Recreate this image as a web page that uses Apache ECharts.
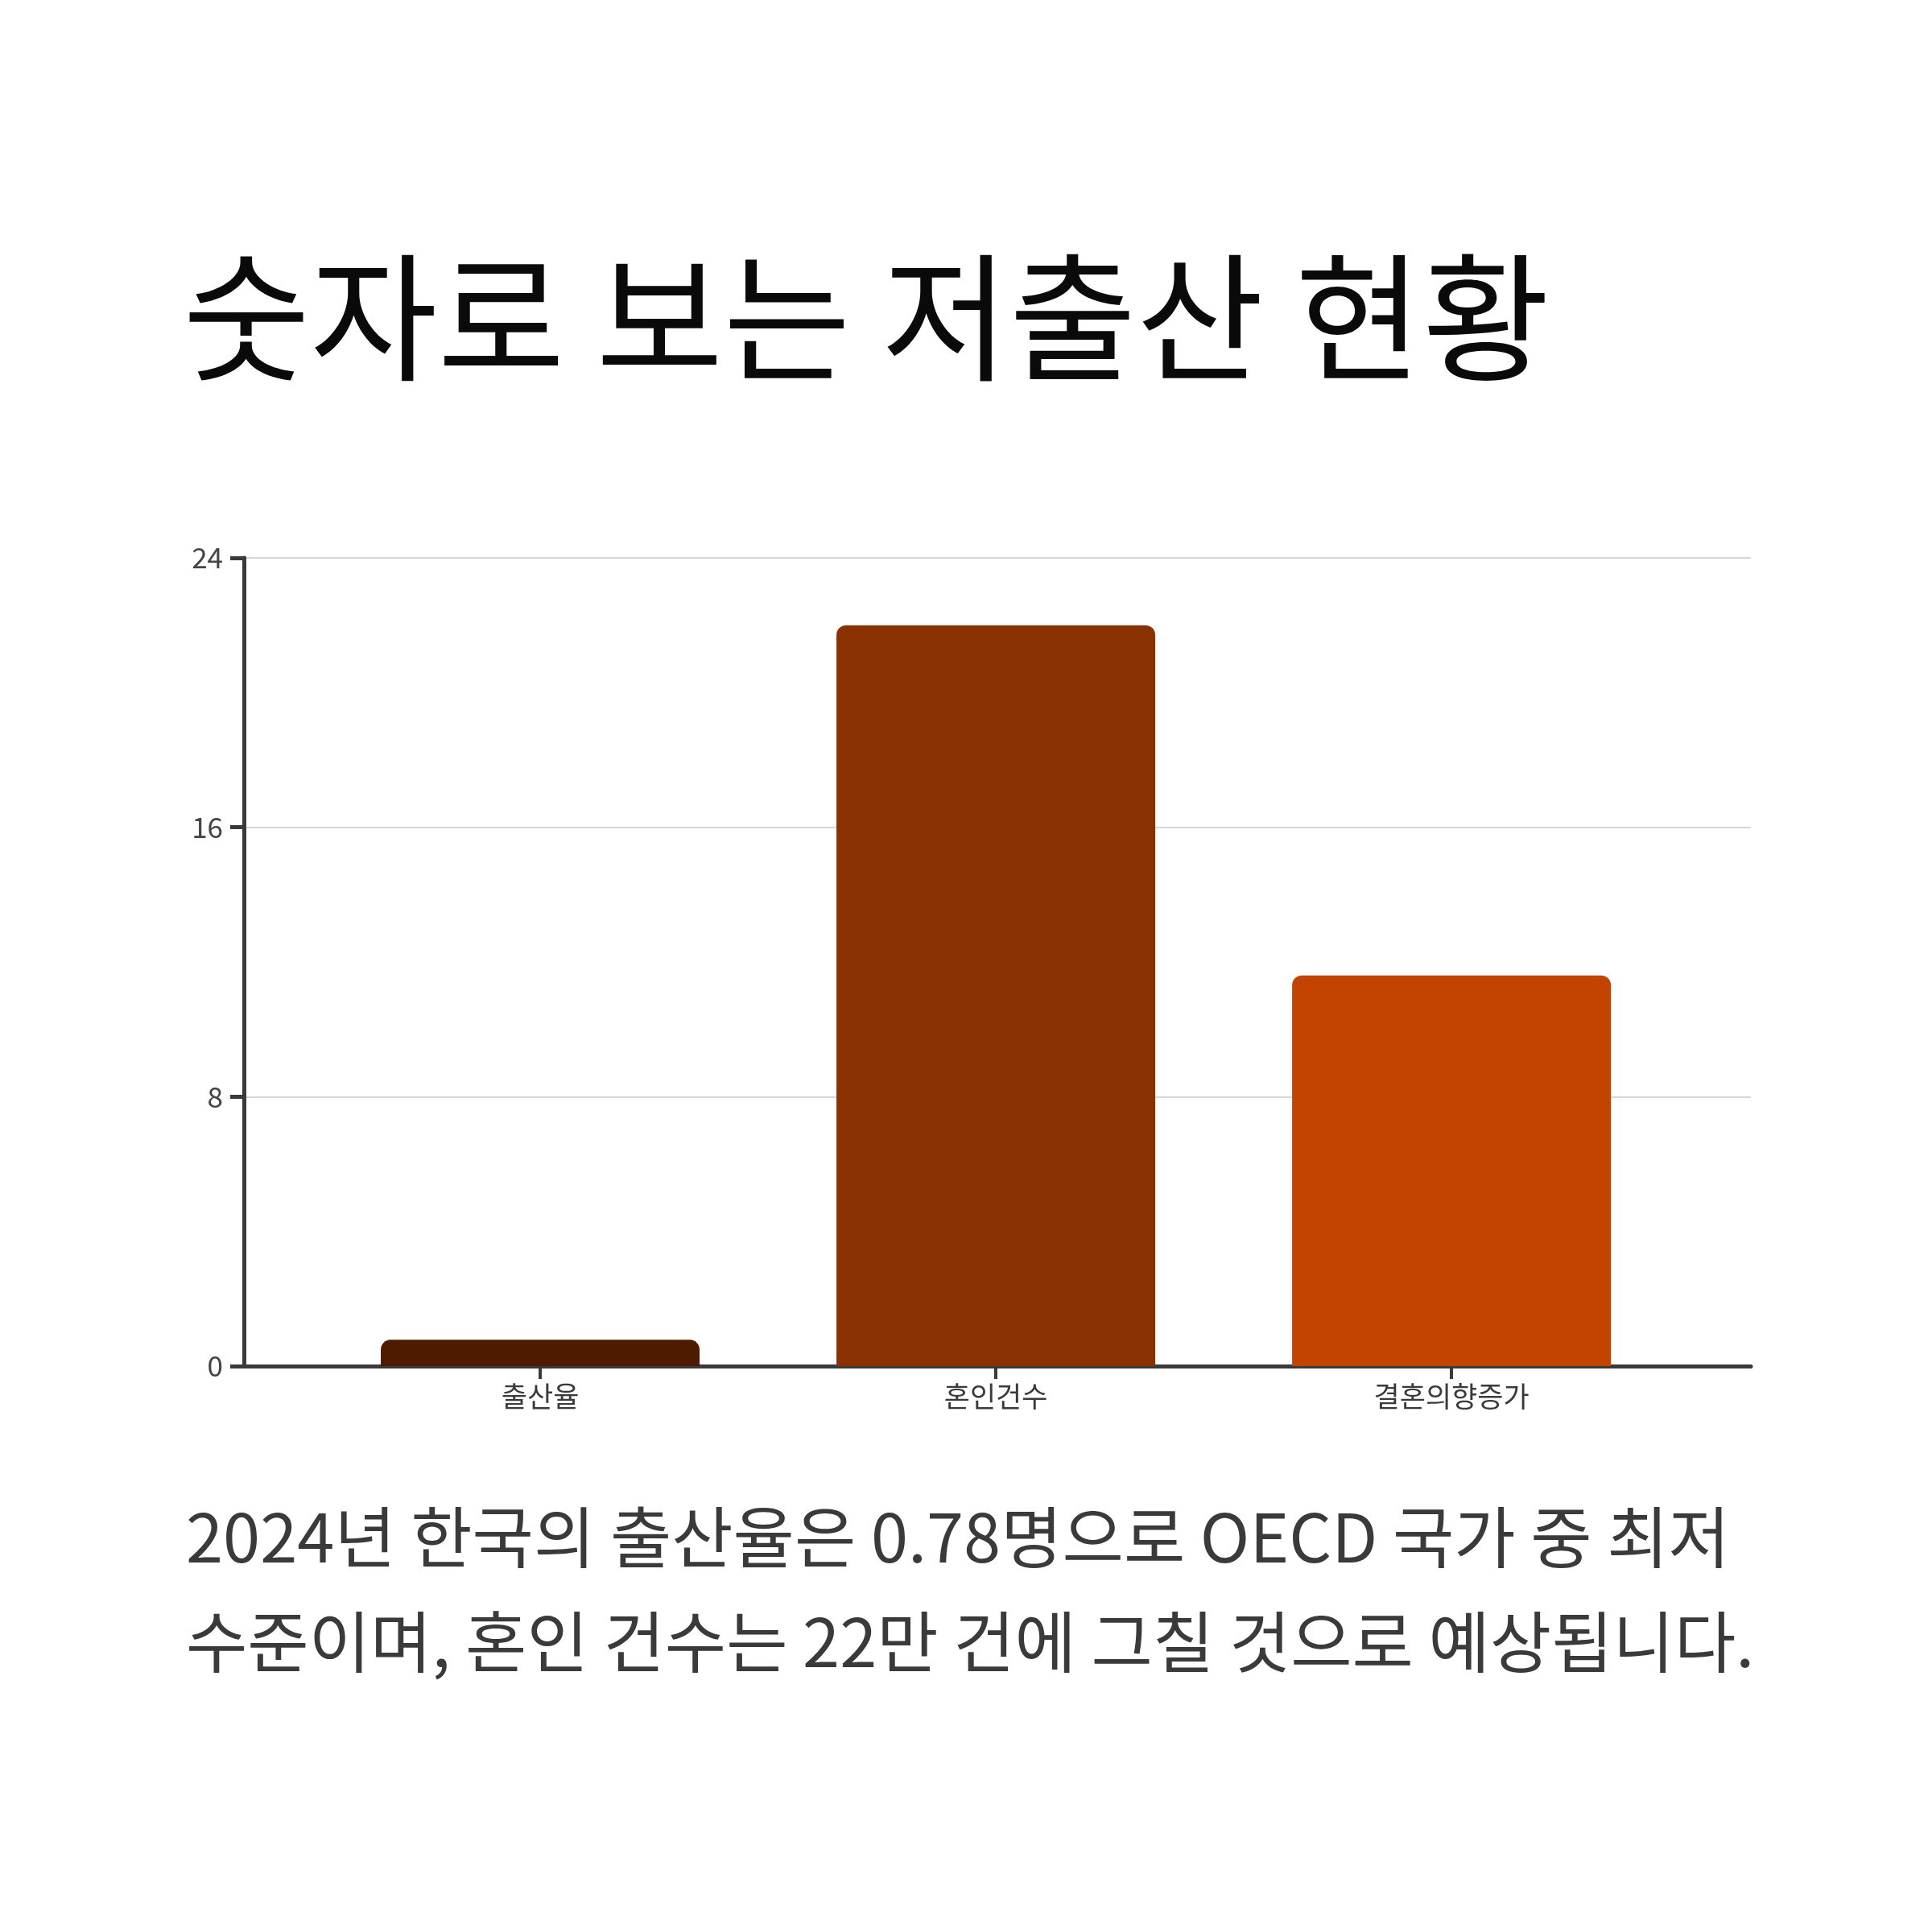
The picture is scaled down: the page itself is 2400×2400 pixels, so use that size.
<!DOCTYPE html>
<html>
<head>
<meta charset="utf-8">
<script src="https://cdn.jsdelivr.net/npm/echarts@6/dist/echarts.min.js"></script>
<style>
html,body{margin:0;padding:0;background:#fff;}
#chart{width:2400px;height:2400px;}
</style>
</head>
<body>
<div id="chart"></div>
<script>
const titleText = '숫자로 보는 저출산 현황';
const noteText = '2024년 한국의 출산율은 0.78명으로 OECD 국가 중 최저\n수준이며, 혼인 건수는 22만 건에 그칠 것으로 예상됩니다.';
const categories = ['출산율', '혼인건수', '결혼의향증가'];
const values = [0.78, 22, 11.6];
const barColors = ['#4d1c00', '#8a3100', '#c24400'];
const yTicks = [0, 8, 16, 24];

const FONT = "'Noto Sans CJK KR', sans-serif";
const chart = echarts.init(document.getElementById('chart'), null, {renderer: 'canvas'});

chart.setOption({
  backgroundColor: '#ffffff',
  animation: false,
  title: [
    {
      text: titleText,
      left: 222,
      top: 302,
      textStyle: {fontFamily: FONT, fontSize: 172, fontWeight: 400, color: '#0a0a0a', lineHeight: 174}
    },
    {
      text: noteText,
      left: 226,
      top: 1839,
      textStyle: {fontFamily: FONT, fontSize: 83, fontWeight: 400, color: '#3a3a3a', lineHeight: 130}
    }
  ],
  grid: {left: 303, right: 225, top: 693, bottom: 703, containLabel: false},
  xAxis: {
    type: 'value',
    min: -0.6502,
    max: 2.657,
    splitLine: {show: false},
    axisLine: {show: true, onZero: true, lineStyle: {color: '#3a3a3a', width: 5}},
    axisTick: {show: true, customValues: categories.map((c, i) => i), length: 16, lineStyle: {color: '#3a3a3a', width: 4}},
    axisLabel: {
      show: true,
      customValues: categories.map((c, i) => i),
      formatter: (v) => categories[Math.round(v)] || '',
      margin: 20,
      fontFamily: FONT, fontSize: 35, color: '#3a3a3a'
    }
  },
  yAxis: {
    type: 'value',
    min: yTicks[0],
    max: yTicks[yTicks.length - 1],
    interval: yTicks[1] - yTicks[0],
    axisLine: {show: true, onZero: false, lineStyle: {color: '#3a3a3a', width: 5}},
    axisTick: {show: true, length: 17, lineStyle: {color: '#3a3a3a', width: 5}},
    axisLabel: {margin: 26, fontFamily: FONT, fontSize: 35, color: '#444444'},
    splitLine: {show: true, lineStyle: {color: '#d6d6d6', width: 2}}
  },
  series: [{
    type: 'bar',
    barWidth: 396,
    data: values.map((v, i) => ({value: [i, v], itemStyle: {color: barColors[i]}})),
    itemStyle: {borderRadius: [12, 12, 0, 0]}
  }]
});
</script>
</body>
</html>
